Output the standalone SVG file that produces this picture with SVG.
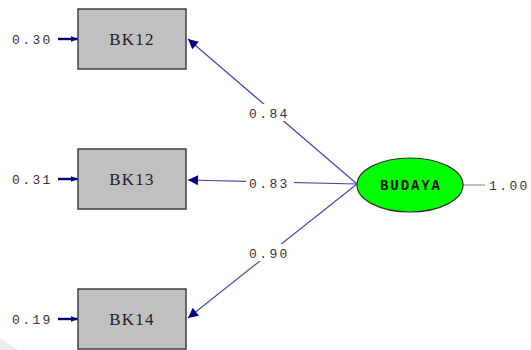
<svg xmlns="http://www.w3.org/2000/svg" width="531" height="350" viewBox="0 0 531 350">
  <defs>
    <marker id="arr" viewBox="0 0 10 10" refX="10" refY="5" markerWidth="10" markerHeight="7" markerUnits="userSpaceOnUse" orient="auto">
      <path d="M0,1 L10,5 L0,9 Z" fill="#000080"/>
    </marker>
    <marker id="arrBig" viewBox="0 0 10 10" refX="10" refY="5" markerWidth="14" markerHeight="10" markerUnits="userSpaceOnUse" orient="auto">
      <path d="M0,0 L10,5 L0,10 Z" fill="#000080"/>
    </marker>
    <style>
      .box { fill: #c0c0c0; stroke: #404040; stroke-width: 1.5; }
      .lat { fill: #00ff00; stroke: #303030; stroke-width: 1.2; }
      .edge { stroke: #4848a8; stroke-width: 1.2; fill: none; }
      .err { stroke: #000080; stroke-width: 2.4; fill: none; }
      .num { font-family: "Liberation Mono", monospace; font-size: 13px; fill: #3a3232; letter-spacing: 2.4px; }
      .lbl { font-family: "Liberation Serif", serif; font-size: 17px; fill: #202020; text-anchor: middle; letter-spacing: 1.2px; }
      .latlbl { font-family: "Liberation Mono", monospace; font-size: 14px; font-weight: bold; fill: #101010; text-anchor: middle; }
      .bg { fill: #ffffff; }
    </style>
  </defs>

  <rect width="531" height="350" fill="#ffffff"/>
  <!-- soft shadow corner at lower left -->
  <polygon points="0,338 18,350 0,350" fill="#ececec"/>

  <g id="connectors">
    <!-- loadings from BUDAYA to indicators -->
    <line class="edge" x1="357" y1="184" x2="188" y2="39" marker-end="url(#arrBig)"/>
    <line class="edge" x1="357" y1="184" x2="188" y2="180" marker-end="url(#arrBig)"/>
    <line class="edge" x1="357" y1="184" x2="188" y2="318" marker-end="url(#arrBig)"/>
    <!-- error terms -->
    <line class="err" x1="58" y1="39" x2="78" y2="39" marker-end="url(#arr)"/>
    <line class="err" x1="58" y1="179" x2="78" y2="179" marker-end="url(#arr)"/>
    <line class="err" x1="58" y1="319" x2="78" y2="319" marker-end="url(#arr)"/>
    <!-- latent variance -->
    <line x1="463" y1="185" x2="485" y2="185" stroke="#808080" stroke-width="1"/>

    <!-- loading labels -->
    <rect class="bg" x="247" y="104" width="46" height="17"/>
    <text class="num" x="249" y="118">0.84</text>
    <rect class="bg" x="246" y="174" width="48" height="17"/>
    <text class="num" x="249" y="188">0.83</text>
    <rect class="bg" x="247" y="244" width="46" height="17"/>
    <text class="num" x="249" y="258">0.90</text>
  </g>

  <g id="BK12">
    <rect class="box" x="78" y="9" width="108" height="60"/>
    <text class="lbl" x="132" y="45">BK12</text>
    <text class="num" x="12" y="44">0.30</text>
  </g>

  <g id="BK13">
    <rect class="box" x="78" y="149" width="108" height="60"/>
    <text class="lbl" x="132" y="185">BK13</text>
    <text class="num" x="12" y="184">0.31</text>
  </g>

  <g id="BK14">
    <rect class="box" x="78" y="289" width="108" height="60"/>
    <text class="lbl" x="132" y="325">BK14</text>
    <text class="num" x="12" y="324">0.19</text>
  </g>

  <g id="BUDAYA">
    <ellipse class="lat" cx="410" cy="185" rx="53" ry="27"/>
    <text class="latlbl" x="410" y="190" textLength="60" lengthAdjust="spacing">BUDAYA</text>
    <text class="num" x="489" y="190">1.00</text>
  </g>
</svg>
